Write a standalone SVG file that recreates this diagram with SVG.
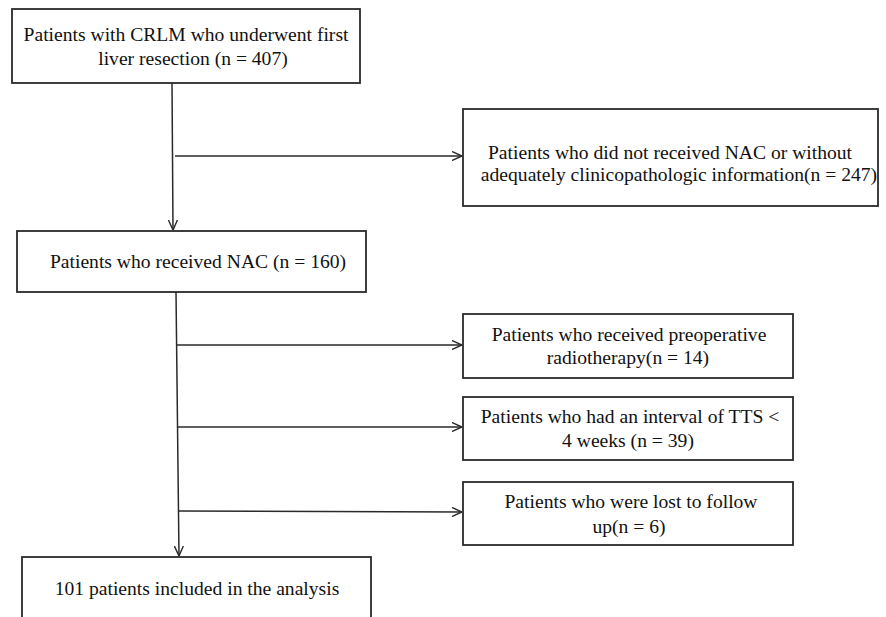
<svg xmlns="http://www.w3.org/2000/svg" width="886" height="617" viewBox="0 0 886 617">
<style>
.box{fill:#fff;stroke:#2a2a2a;stroke-width:1.8}
.t{font-family:'Liberation Serif','DejaVu Serif','Times New Roman',serif;font-size:19.6px;fill:#111;text-anchor:middle}
.c{fill:none;stroke:#2a2a2a;stroke-width:1.5}
</style>
<defs>
<marker id="ah" viewBox="0 0 10 10" refX="10" refY="5" markerWidth="10" markerHeight="10" markerUnits="userSpaceOnUse" orient="auto">
<path d="M0,0.5 L10,5 L0,9.5" fill="none" stroke="#2a2a2a" stroke-width="1.4"/>
</marker>
</defs>
<rect width="886" height="617" fill="#fff"/>
<g id="connectors">
<line class="c" x1="172" y1="83" x2="173" y2="230" marker-end="url(#ah)"/>
<line class="c" x1="175" y1="156" x2="462" y2="156" marker-end="url(#ah)"/>
<line class="c" x1="176" y1="292" x2="179" y2="556" marker-end="url(#ah)"/>
<line class="c" x1="176" y1="345" x2="462" y2="345" marker-end="url(#ah)"/>
<line class="c" x1="177" y1="427" x2="462" y2="427" marker-end="url(#ah)"/>
<line class="c" x1="178" y1="511" x2="462" y2="512" marker-end="url(#ah)"/>
</g>
<g id="n1">
<rect class="box" x="12" y="9" width="348" height="74"/>
<text class="t" font-family="Liberation Serif, serif" x="186" y="41">Patients with CRLM who underwent first</text>
<text class="t" font-family="Liberation Serif, serif" x="193" y="65">liver resection (n = 407)</text>
</g>
<g id="n2">
<rect class="box" x="463" y="109" width="415" height="97"/>
<text class="t" font-family="Liberation Serif, serif" x="670" y="159">Patients who did not received NAC or without</text>
<text class="t" font-family="Liberation Serif, serif" x="679" y="181">adequately clinicopathologic information(n = 247)</text>
</g>
<g id="n3">
<rect class="box" x="17" y="231" width="349" height="61"/>
<text class="t" font-family="Liberation Serif, serif" x="198" y="268">Patients who received NAC (n = 160)</text>
</g>
<g id="n4">
<rect class="box" x="463" y="314" width="330" height="64"/>
<text class="t" font-family="Liberation Serif, serif" x="629" y="341">Patients who received preoperative</text>
<text class="t" font-family="Liberation Serif, serif" x="628" y="364">radiotherapy(n = 14)</text>
</g>
<g id="n5">
<rect class="box" x="463" y="397" width="330" height="63"/>
<text class="t" font-family="Liberation Serif, serif" x="630" y="423">Patients who had an interval of TTS &lt;</text>
<text class="t" font-family="Liberation Serif, serif" x="628" y="447">4 weeks (n = 39)</text>
</g>
<g id="n6">
<rect class="box" x="463" y="482" width="330" height="63"/>
<text class="t" font-family="Liberation Serif, serif" x="631" y="508">Patients who were lost to follow</text>
<text class="t" font-family="Liberation Serif, serif" x="629" y="533">up(n = 6)</text>
</g>
<g id="n7">
<rect class="box" x="22" y="557" width="349" height="80"/>
<text class="t" font-family="Liberation Serif, serif" x="197" y="595">101 patients included in the analysis</text>
</g>
</svg>
